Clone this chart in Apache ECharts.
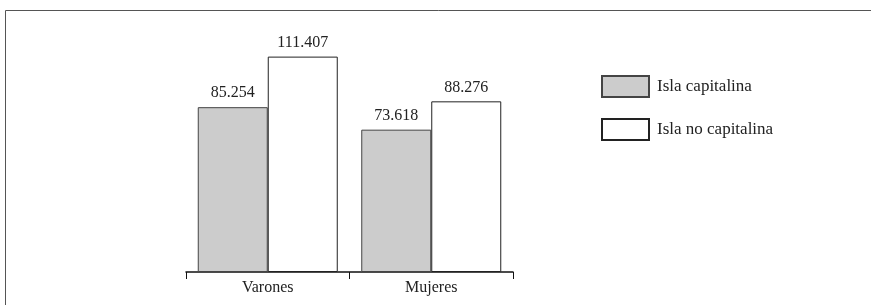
<!DOCTYPE html>
<html>
<head>
<meta charset="utf-8">
<script src="https://cdn.jsdelivr.net/npm/echarts@6/dist/echarts.min.js"></script>
<style>
  html, body { margin: 0; padding: 0; background: #fff; }
  #chart { width: 871px; height: 305px; }
</style>
</head>
<body>
<div id="chart"></div>
<script>
const categories = ['Varones', 'Mujeres'];
const capitalina = [85.254, 73.618];
const noCapitalina = [111.407, 88.276];
const seriesNames = ['Isla capitalina', 'Isla no capitalina'];

const chart = echarts.init(document.getElementById('chart'));
const font = '"Liberation Serif", "DejaVu Serif", serif';

const labelOpt = {
  show: true,
  position: 'top',
  distance: 6,
  color: '#222',
  fontFamily: font,
  fontSize: 16,
  formatter: p => p.value.toFixed(3)
};

chart.setOption({
  animation: false,
  graphic: [{
    type: 'polyline',
    shape: { points: [[5.5, 305], [5.5, 10.5], [871, 10.5]] },
    style: { stroke: '#555', lineWidth: 1, fill: null }
  }],
  grid: { left: 186, right: 358, top: 40, bottom: 33 },
  legend: {
    orient: 'vertical',
    left: 601,
    top: 75,
    padding: 0,
    icon: 'rect',
    itemWidth: 47,
    itemHeight: 21,
    itemGap: 20,
    textStyle: { fontFamily: font, fontSize: 17, color: '#222', padding: [0, 0, 0, 3] },
    data: seriesNames
  },
  xAxis: {
    type: 'category',
    data: categories,
    axisLine: { lineStyle: { color: '#111', width: 1.5 } },
    axisTick: { show: true, length: 7, lineStyle: { color: '#111', width: 1 } },
    axisLabel: { fontFamily: font, fontSize: 16, color: '#222', margin: 8 }
  },
  yAxis: {
    type: 'value',
    min: 0,
    max: 120,
    show: false,
    splitLine: { show: false }
  },
  series: [
    {
      name: seriesNames[0],
      type: 'bar',
      data: capitalina,
      barWidth: 70,
      barGap: '0%',
      itemStyle: { color: '#cccccc', borderColor: '#444', borderWidth: 1 },
      label: labelOpt
    },
    {
      name: seriesNames[1],
      type: 'bar',
      data: noCapitalina,
      barWidth: 70,
      itemStyle: { color: '#ffffff', borderColor: '#222', borderWidth: 1 },
      label: labelOpt
    }
  ]
});
</script>
</body>
</html>
